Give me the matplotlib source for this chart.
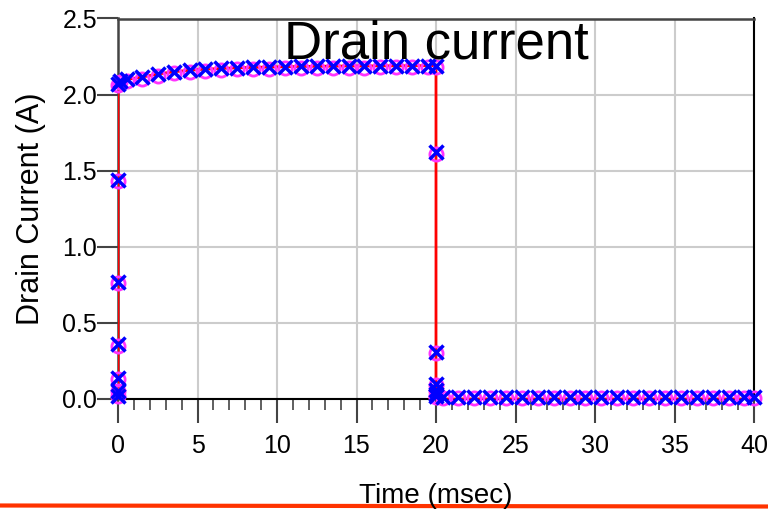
import matplotlib
matplotlib.use("Agg")
import matplotlib.pyplot as plt
from matplotlib.ticker import MultipleLocator
from matplotlib.lines import Line2D

plt.rcParams['font.family'] = ['Liberation Sans', 'DejaVu Sans']

# measured points (blue x)
t_meas = [0, 0, 0, 0, 0, 0, 0, 0.13, 0.55, 1.5, 2.5, 3.5, 4.5, 5.5, 6.5, 7.5, 8.5,
          9.5, 10.5, 11.5, 12.5, 13.5, 14.5, 15.5, 16.5, 17.5, 18.5, 19.5, 20,
          20, 20, 20, 20, 20, 20, 20.45, 21.4, 22.4, 23.4, 24.4, 25.4, 26.4, 27.4,
          28.4, 29.4, 30.4, 31.4, 32.4, 33.4, 34.4, 35.4, 36.4, 37.4, 38.4, 39.4, 40]
i_meas = [0.02, 0.05, 0.14, 0.36, 0.77, 1.44, 2.07, 2.09, 2.10, 2.115, 2.135, 2.15,
          2.16, 2.167, 2.172, 2.176, 2.179, 2.181, 2.183, 2.185, 2.186, 2.187, 2.188,
          2.188, 2.189, 2.189, 2.19, 2.19, 2.19,
          1.62, 0.31, 0.10, 0.06, 0.03, 0.02, 0.015, 0.015, 0.015, 0.015, 0.015,
          0.015, 0.015, 0.015, 0.015, 0.015, 0.015, 0.015, 0.015, 0.015, 0.015,
          0.015, 0.015, 0.015, 0.015, 0.015, 0.015]
# simulated points (magenta circles)
t_sim = t_meas
i_sim = [0.02, 0.05, 0.13, 0.35, 0.76, 1.43, 2.06, 2.08, 2.09, 2.105, 2.125, 2.14,
         2.15, 2.157, 2.162, 2.166, 2.169, 2.171, 2.173, 2.175, 2.176, 2.177, 2.178,
         2.178, 2.179, 2.179, 2.18, 2.18, 2.18,
         1.61, 0.30, 0.09, 0.05, 0.02, 0.01, 0.008, 0.008, 0.008, 0.008, 0.008,
         0.008, 0.008, 0.008, 0.008, 0.008, 0.008, 0.008, 0.008, 0.008, 0.008,
         0.008, 0.008, 0.008, 0.008, 0.008, 0.008]
# model line (red)
t_line = [0, 0, 0.13, 0.55, 1.5, 2.5, 3.5, 4.5, 5.5, 6.5, 7.5, 8.5, 9.5, 10.5, 11.5,
          12.5, 13.5, 14.5, 15.5, 16.5, 17.5, 18.5, 19.5, 20, 20, 40]
i_line = [0.0, 2.07, 2.09, 2.10, 2.115, 2.135, 2.15, 2.16, 2.167, 2.172, 2.176, 2.179,
          2.181, 2.183, 2.185, 2.186, 2.187, 2.188, 2.188, 2.189, 2.189, 2.19, 2.19,
          2.19, 0.0, 0.0]

x_ticks = [0, 5, 10, 15, 20, 25, 30, 35, 40]
y_ticks = [0.0, 0.5, 1.0, 1.5, 2.0, 2.5]

fig = plt.figure(figsize=(7.68, 5.09), dpi=100)
W, H = 768, 509
ax = fig.add_axes([118 / W, 1 - 399 / H, (754 - 118) / W, (399 - 18.5) / H])

ax.plot(t_line, i_line, color='#ff0000', lw=2.0, zorder=3)
ax.plot(t_sim, i_sim, linestyle='none', marker='o', ms=9.5, mfc='none',
        mec='#ff33ff', mew=2.0, zorder=4, clip_on=False)
ax.plot(t_meas, i_meas, linestyle='none', marker='x', ms=9.5, mec='#0000ff',
        mew=2.5, zorder=5, clip_on=False)

ax.set_xlim(0, 40)
ax.set_ylim(0, 2.5)
ax.set_xticks(x_ticks)
ax.set_yticks(y_ticks)
ax.set_yticklabels([f"{v:.1f}" for v in y_ticks])
ax.xaxis.set_minor_locator(MultipleLocator(1))
ax.grid(True, which='major', color='#cccccc', lw=1.5)
ax.set_axisbelow(True)

ax.tick_params(axis='x', which='major', direction='out', length=17, width=1.5,
               color='#444444', labelsize=18, pad=8)
ax.tick_params(axis='x', which='minor', direction='out', length=8, width=1.2,
               color='#444444')
ax.tick_params(axis='y', which='major', direction='out', length=15, width=1.5,
               color='#444444', labelsize=18, pad=0)

for s in ['left', 'top']:
    ax.spines[s].set_color('#444444')
    ax.spines[s].set_linewidth(1.8)
for s in ['right', 'bottom']:
    ax.spines[s].set_color('#000000')
    ax.spines[s].set_linewidth(1.5)

ax.text(0.5, 0.896, 'Drain current', transform=ax.transAxes, ha='center',
        va='baseline', fontsize=38, color='black', zorder=6)
ax.set_ylabel('Drain Current (A)', fontsize=22, labelpad=12)
fig.text(436 / W, 1 - 503 / H, 'Time (msec)', ha='center', va='baseline',
         fontsize=20)

fig.add_artist(Line2D([0, 1], [1 - 505.5 / H, 1 - 506.5 / H], transform=fig.transFigure,
                      color='#ff3300', lw=3))

fig.savefig('out.png', dpi=100)
